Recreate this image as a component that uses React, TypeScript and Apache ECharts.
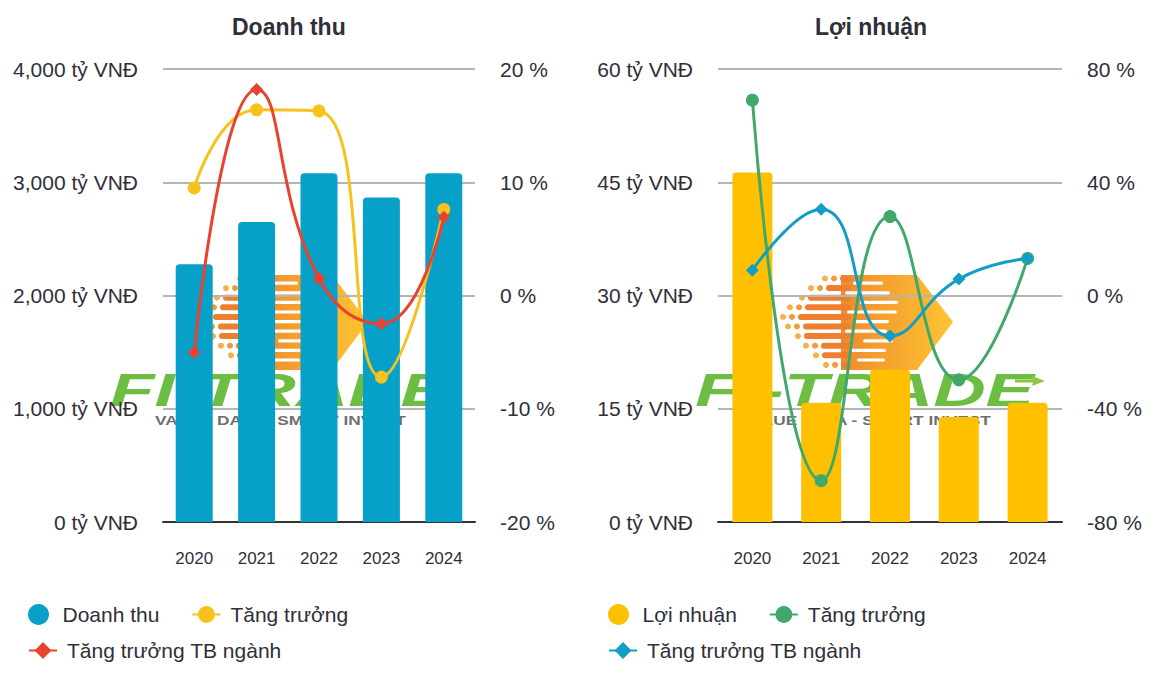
import React, { useEffect, useRef } from "react";
import * as echarts from "echarts";

const years = ["2020", "2021", "2022", "2023", "2024"];
const revenue = [2275, 2650, 3080, 2865, 3080];
const revenueGrowth = [9.5, 16.4, 16.3, -7.2, 7.6];
const revenueIndustry = [-5.0, 18.2, 1.5, -2.5, 6.9];
const profit = [46.3, 15.8, 20.2, 13.9, 15.8];
const profitGrowth = [69.0, -65.4, 27.9, -29.8, 13.1];
const profitIndustry = [8.9, 30.5, -14.3, 5.8, 13.1];

const revenueAxis = { min: 0, max: 4000, interval: 1000 };
const revenuePctAxis = { min: -20, max: 20, interval: 10 };
const profitAxis = { min: 0, max: 60, interval: 15 };
const profitPctAxis = { min: -80, max: 80, interval: 40 };

const TXT = "#2f2f3a";
const FONT = "Liberation Sans, Arial, sans-serif";

const rowStarts = [127, 113, 104, 92, 85, 90, 100, 108, 118, 128];
const rowDots = [2, 2, 1, 2, 2, 2, 1, 2, 1, 2];
const whiteStripes = [
  [158, 30], [150, 45], [165, 38], [152, 50], [160, 34], [150, 42], [168, 30], [155, 36], [162, 28],
];

function logo(ox: number, oy: number) {
  const children: any[] = [];
  children.push({
    type: "polygon",
    shape: { points: [[146, 0], [222, 0], [258, 47], [222, 95], [146, 95]] },
    style: {
      fill: {
        type: "linear", x: 0, y: 0, x2: 1, y2: 0,
        colorStops: [
          { offset: 0, color: "#f08a2e" },
          { offset: 1, color: "#fdc531" },
        ],
      },
    },
  });
  rowStarts.forEach((s, i) => {
    const y = i * 9.6;
    let x = s;
    for (let d = 0; d < rowDots[i]; d++) {
      children.push({
        type: "circle",
        shape: { cx: x + 3, cy: y + 3.5, r: 3 },
        style: { fill: d === 0 ? "#f6b04a" : "#f29a3a" },
      });
      x += 9;
    }
    children.push({
      type: "rect",
      shape: { x: x, y: y + 0.5, width: 156 - x, height: 6, r: 3 },
      style: { fill: "#ee7f2f" },
    });
  });
  whiteStripes.forEach(([sx, len], i) => {
    children.push({
      type: "rect",
      shape: { x: sx, y: i * 9.6 + 6.6, width: len, height: 3.2, r: 1.6 },
      style: { fill: "#ffffff" },
    });
  });
  children.push({
    type: "text",
    x: 0,
    y: 92,
    scaleX: 1.58,
    style: {
      text: "FI-TRADE",
      fontSize: 46,
      fontWeight: "bold",
      fontStyle: "italic",
      fontFamily: FONT,
      fill: "#6dbd44",
    },
  });
  children.push({
    type: "polygon",
    shape: { points: [[337, 101], [350, 106], [337, 111], [338, 107.5], [320, 107.5], [320, 104.5], [338, 104.5]] },
    style: { fill: "#8dc63f" },
  });
  children.push({
    type: "text",
    x: 45,
    y: 139,
    scaleX: 1.33,
    style: {
      text: "VALUE DATA - SMART INVEST",
      fontSize: 13,
      fontWeight: "bold",
      fontFamily: FONT,
      fill: "#6f6f6f",
    },
  });
  children.forEach((c) => (c.z = -5));
  return { type: "group", x: ox, y: oy, z: -5, children };
}

function leftAxis(cfg: any, grid: number, fmt: (v: number) => string) {
  return {
    type: "value",
    gridIndex: grid,
    position: "left",
    ...cfg,
    axisLine: { show: false },
    axisTick: { show: false },
    axisLabel: { formatter: fmt, color: TXT, fontSize: 21, fontFamily: FONT, margin: 25 },
    splitLine: { show: true, lineStyle: { color: "#b5b5b5", width: 2 } },
  };
}
function rightAxis(cfg: any, grid: number) {
  return {
    type: "value",
    gridIndex: grid,
    position: "right",
    ...cfg,
    axisLine: { show: false },
    axisTick: { show: false },
    axisLabel: { formatter: (v: number) => `${v} %`, color: TXT, fontSize: 21, fontFamily: FONT, margin: 25 },
    splitLine: { show: false },
  };
}
function xAxis(grid: number) {
  return {
    type: "category",
    gridIndex: grid,
    data: years,
    axisLine: { show: true, lineStyle: { color: "#333", width: 2 } },
    axisTick: { show: false },
    axisLabel: { color: TXT, fontSize: 17, fontFamily: FONT, margin: 28 },
  };
}

const fmtTy = (v: number) => `${v.toLocaleString("en-US")} tỷ VNĐ`;

export default function App() {
  const ref = useRef<HTMLDivElement>(null);
  useEffect(() => {
    document.body.style.margin = "0";
    const chart = echarts.init(ref.current!, null, { renderer: "svg" });
    const legendText = { color: TXT, fontSize: 21, fontFamily: FONT, padding: [0, 0, 0, 5] };
    const lg = { itemWidth: 28, itemHeight: 21, itemGap: 32, textStyle: legendText };
    chart.setOption({
      animation: false,
      backgroundColor: "#ffffff",
      title: [
        { text: "Doanh thu", left: 227, top: 10, textStyle: { fontSize: 23, fontWeight: "bold", color: TXT, fontFamily: FONT } },
        { text: "Lợi nhuận", left: 810, top: 10, textStyle: { fontSize: 23, fontWeight: "bold", color: TXT, fontFamily: FONT } },
      ],
      graphic: [logo(110, 275), logo(695, 275)],
      legend: [
        { ...lg, left: 23, top: 599, data: [{ name: "Doanh thu", icon: "circle" }, "Tăng trưởng"] },
        { ...lg, left: 23, top: 635, data: ["Tăng trưởng TB ngành"] },
        { ...lg, left: 603, top: 599, data: [{ name: "Lợi nhuận", icon: "circle" }, "Tăng trưởng "] },
        { ...lg, left: 603, top: 635, data: ["Tăng trưởng TB ngành "] },
      ],
      grid: [
        { left: 163, right: 685, top: 69, bottom: 156 },
        { left: 718, right: 98, top: 69, bottom: 156 },
      ],
      xAxis: [xAxis(0), xAxis(1)],
      yAxis: [
        leftAxis(revenueAxis, 0, fmtTy),
        rightAxis(revenuePctAxis, 0),
        leftAxis(profitAxis, 1, fmtTy),
        rightAxis(profitPctAxis, 1),
      ],
      series: [
        {
          name: "Doanh thu", type: "bar", xAxisIndex: 0, yAxisIndex: 0, data: revenue, barWidth: 37,
          itemStyle: { color: "#07a0c8", borderRadius: [4, 4, 0, 0] },
        },
        {
          name: "Tăng trưởng", type: "line", xAxisIndex: 0, yAxisIndex: 1, data: revenueGrowth, smooth: 0.5,
          symbol: "circle", symbolSize: 13, lineStyle: { width: 3, color: "#f7c21c" }, itemStyle: { color: "#f7c21c" },
        },
        {
          name: "Tăng trưởng TB ngành", type: "line", xAxisIndex: 0, yAxisIndex: 1, data: revenueIndustry, smooth: 0.5,
          symbol: "diamond", symbolSize: 13, lineStyle: { width: 3, color: "#e8432f" }, itemStyle: { color: "#e8432f" },
        },
        {
          name: "Lợi nhuận", type: "bar", xAxisIndex: 1, yAxisIndex: 2, data: profit, barWidth: 40,
          itemStyle: { color: "#ffc000", borderRadius: [4, 4, 0, 0] },
        },
        {
          name: "Tăng trưởng ", type: "line", xAxisIndex: 1, yAxisIndex: 3, data: profitGrowth, smooth: 0.5,
          symbol: "circle", symbolSize: 13, lineStyle: { width: 3, color: "#41a86b" }, itemStyle: { color: "#41a86b" },
        },
        {
          name: "Tăng trưởng TB ngành ", type: "line", xAxisIndex: 1, yAxisIndex: 3, data: profitIndustry, smooth: 0.5,
          symbol: "diamond", symbolSize: 13, lineStyle: { width: 3, color: "#139ec5" }, itemStyle: { color: "#139ec5" },
        },
      ],
    });
    return () => chart.dispose();
  }, []);
  return <div ref={ref} style={{ width: 1160, height: 678 }} />;
}
